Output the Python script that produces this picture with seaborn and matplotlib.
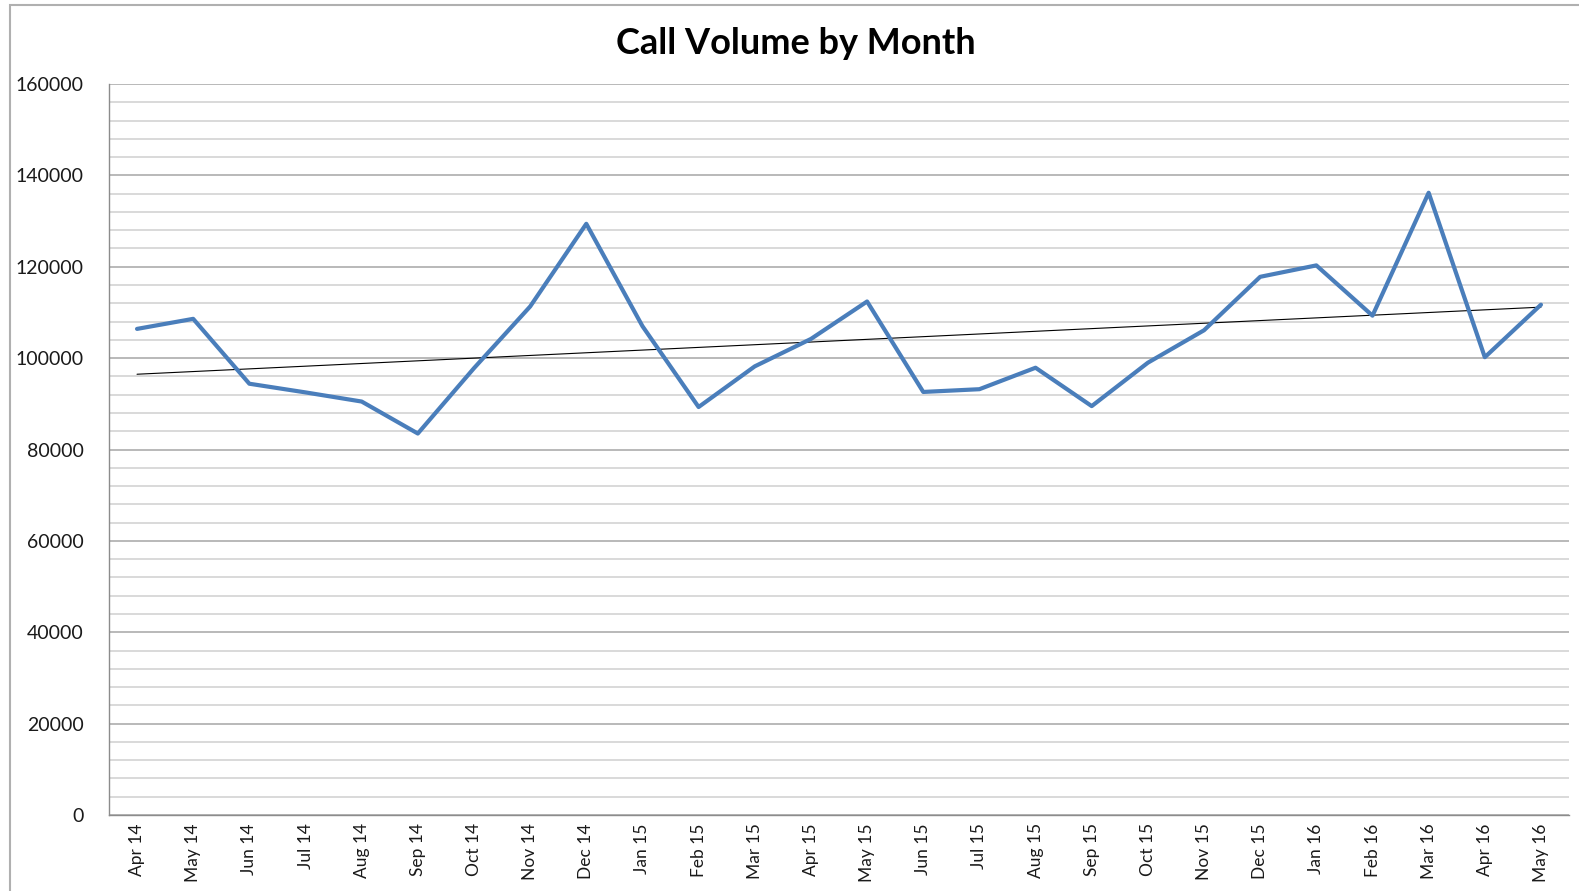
import numpy as np
import pandas as pd
import matplotlib
matplotlib.use("Agg")
import matplotlib.pyplot as plt
import seaborn as sns
from matplotlib.ticker import MultipleLocator, FixedLocator
from matplotlib.patches import Rectangle

# monthly call volumes
months = ["Apr 14", "May 14", "Jun 14", "Jul 14", "Aug 14", "Sep 14", "Oct 14",
          "Nov 14", "Dec 14", "Jan 15", "Feb 15", "Mar 15", "Apr 15", "May 15",
          "Jun 15", "Jul 15", "Aug 15", "Sep 15", "Oct 15", "Nov 15", "Dec 15",
          "Jan 16", "Feb 16", "Mar 16", "Apr 16", "May 16"]
calls = [106400, 108600, 94400, 92500, 90500, 83500, 97800,
         111300, 129400, 107000, 89300, 98200, 104200, 112400,
         92600, 93200, 97900, 89500, 99000, 106100, 117800,
         120300, 109300, 136200, 100200, 111700]

df = pd.DataFrame({"month": months, "calls": calls})
df["pos"] = np.arange(len(df))

# linear trendline like Excel's
slope, icept = np.polyfit(df["pos"], df["calls"], 1)
df["trend"] = icept + slope * df["pos"]

sns.set_style("white")
plt.rcParams["font.family"] = ["Lato", "DejaVu Sans"]

fig = plt.figure(figsize=(15.79, 8.91), dpi=100)
ax = fig.add_axes([0.069, 0.0853, 0.9247, 0.8204])

sns.lineplot(data=df, x="pos", y="trend", ax=ax, color="black", linewidth=0.8)
sns.lineplot(data=df, x="pos", y="calls", ax=ax, color="#4a7ebb", linewidth=3.0)

ax.set_xlim(-0.5, len(months) - 0.5)
ax.set_ylim(0, 160000)

ax.yaxis.set_major_locator(MultipleLocator(20000))
ax.yaxis.set_minor_locator(MultipleLocator(4000))
ax.grid(which="major", axis="y", color="#a6a6a6", linewidth=1.1)
ax.grid(which="minor", axis="y", color="#cfcfcf", linewidth=1.1)
ax.set_axisbelow(True)

ax.xaxis.set_major_locator(FixedLocator(df["pos"]))
ax.set_xticklabels(months, rotation=90, fontsize=12.5, color="#1a1a1a")
ax.xaxis.set_minor_locator(FixedLocator(np.arange(-0.5, len(months), 1.0)))
ax.tick_params(axis="x", which="major", length=0, pad=6)
ax.tick_params(axis="x", which="minor", length=6, color="#8c8c8c", width=1, direction="out")
ax.tick_params(axis="y", which="major", length=6, color="#8c8c8c", width=1,
               direction="out", labelsize=14, labelcolor="#1a1a1a", pad=12)
ax.tick_params(axis="y", which="minor", length=0)

for s in ["top", "right"]:
    ax.spines[s].set_visible(False)
for s in ["left", "bottom"]:
    ax.spines[s].set_color("#8c8c8c")
    ax.spines[s].set_linewidth(1)

ax.set_xlabel("")
ax.set_ylabel("")

fig.text(0.504, 0.951, "Call Volume by Month", ha="center", va="center",
         fontsize=26, fontweight="bold", color="black")

# chart frame
fig.patches.append(Rectangle((10 / 1579, -0.05), 1.1, 0.05 + (891 - 5) / 891,
                             transform=fig.transFigure, fill=False,
                             edgecolor="#b0b0b0", linewidth=1.5))

fig.savefig("out.png", dpi=100)
